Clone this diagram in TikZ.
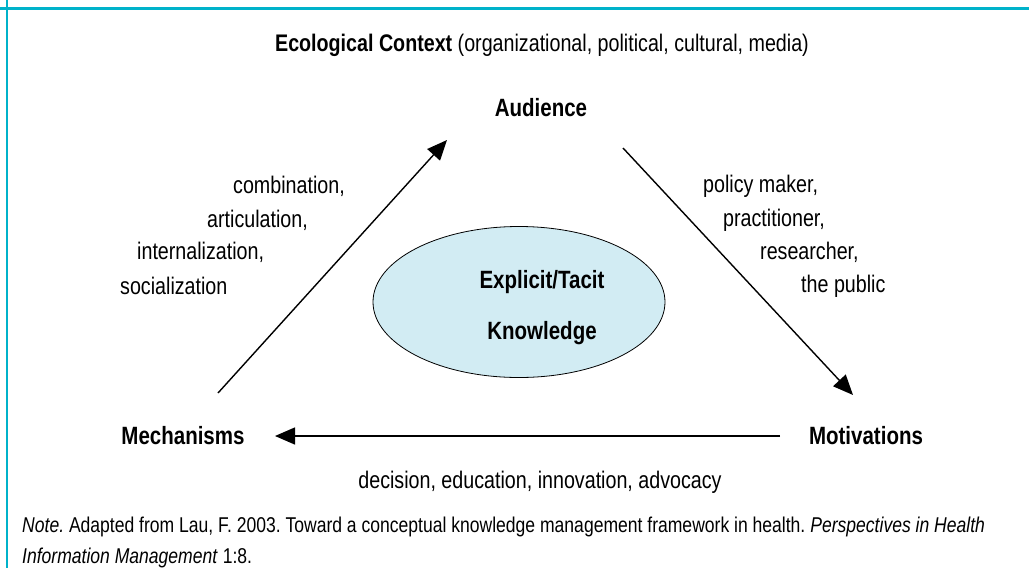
\documentclass[tikz,border=0pt]{standalone}
\usepackage{fontspec}
\setmainfont{Liberation Sans}[FakeStretch=0.82]
\usetikzlibrary{arrows.meta,shapes.geometric}
\definecolor{frameteal}{RGB}{0,178,202}
\definecolor{knowblue}{RGB}{210,236,243}

\begin{document}
\frenchspacing
\begin{tikzpicture}[x=1pt,y=-1pt]
      \tikzset{
        every node/.style={inner sep=0pt,font=\fontsize{24}{28}\selectfont},
        corner/.style={font=\fontsize{25}{29}\selectfont\bfseries},
        notetext/.style={anchor=west,font=\fontsize{21.4}{26}\selectfont},
        flow/.style={line width=1.4pt,-{Triangle[length=20pt,width=17pt]}}
      }
      \useasboundingbox (0,0) rectangle (1029,568);

      % frame
      \draw[frameteal,line width=3pt] (0,8) -- (1029,8);
      \draw[frameteal,line width=2.5pt] (7,0) -- (7,568);

      \node[] (eco) at (542,45) {\textbf{Ecological Context} (organizational, political, cultural, media)};

      \node[draw,ellipse,fill=knowblue,line width=0.8pt,minimum width=292pt,minimum height=151pt] (know) at (519,302) {};
      \node[corner] (expl) at (542,282) {Explicit/Tacit};
      \node[corner] (knowl) at (542,333) {Knowledge};

      \node[corner] (aud) at (541,108) {Audience};
      \node[corner] (mech) at (183,436) {Mechanisms};
      \node[corner] (motiv) at (866,436) {Motivations};

      \coordinate (mechout) at (218,393);
      \coordinate (audin) at (447,140);
      \coordinate (audout) at (623,148);
      \coordinate (motivin) at (853,395);
      \coordinate (motivout) at (780,436);
      \coordinate (mechin) at (275,436);

      \draw[flow] (mechout) -- (audin);
      \draw[flow] (audout) -- (motivin);
      \draw[flow] (motivout) -- (mechin);

      \node[anchor=west] (comb) at (233,186) {combination,};
      \node[anchor=west] (artic) at (207,220) {articulation,};
      \node[anchor=west] (intern) at (137,252) {internalization,};
      \node[anchor=west] (social) at (120,286) {socialization};

      \node[anchor=west] (policy) at (703,186) {policy maker,};
      \node[anchor=west] (pract) at (723,220) {practitioner,};
      \node[anchor=west] (resear) at (760,252) {researcher,};
      \node[anchor=west] (public) at (801,286) {the public};

      \node[] (uses) at (540,482) {decision, education, innovation, advocacy};

      \node[notetext] (note1) at (22,527) {\textit{Note.} Adapted from Lau, F. 2003. Toward a conceptual knowledge management framework in health. \textit{Perspectives in Health}};
      \node[notetext] (note2) at (22,558) {\textit{Information Management} 1:8.};
    \end{tikzpicture}
\end{document}
